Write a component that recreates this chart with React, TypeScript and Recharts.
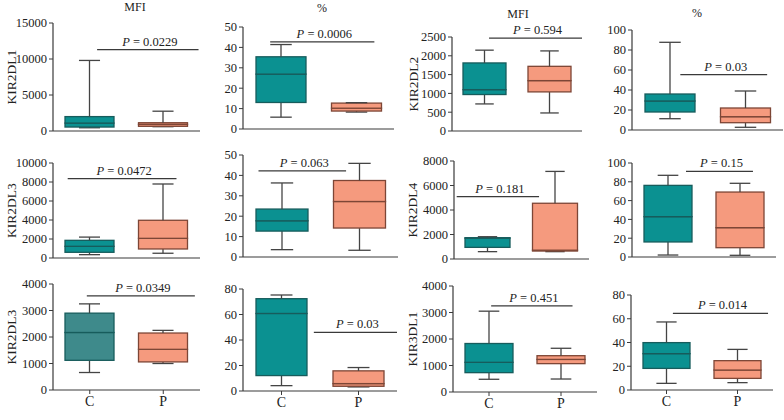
import React from "react";
import { ComposedChart, Bar, XAxis, YAxis, ReferenceLine } from "recharts";

const groups = ["C", "P"];

// box stats per group: [min, q1, median, q3, max]
const kir2dl1Mfi = [[450, 550, 1100, 2000, 9800], [600, 650, 920, 1150, 2750]];
const kir2dl1Pct = [[5.8, 13, 26.9, 35.4, 41.4], [8.3, 8.8, 10.2, 12.7, 12.9]];
const kir2dl2Mfi = [[720, 970, 1100, 1810, 2150], [480, 1040, 1340, 1720, 2130]];
const kir2dl2Pct = [[11.3, 18, 29, 36, 87.7], [2.7, 7.3, 13.3, 22, 39]];
const kir2dl3Mfi = [[350, 600, 1230, 1860, 2200], [500, 950, 2070, 3970, 7790]];
const kir2dl3Pct = [[3.6, 12.7, 17.75, 23.5, 36.3], [3.3, 14.2, 27.2, 37.5, 45.9]];
const kir2dl4Mfi = [[600, 950, 1700, 1740, 1820], [600, 650, 720, 4550, 7150]];
const kir2dl4Pct = [[2.1, 16, 42.9, 76.2, 86.9], [1.8, 9.9, 31.2, 69.1, 78.4]];
const kir2dl3bMfi = [[660, 1120, 2170, 2900, 3250], [1000, 1060, 1535, 2150, 2250]];
const kir2dl3bPct = [[4.2, 12.1, 60.8, 72.4, 75.3], [3.2, 3.7, 5.8, 15.8, 18.4]];
const kir3dl1Mfi = [[480, 730, 1120, 1830, 3050], [490, 1070, 1230, 1370, 1650]];
const kir3dl1Pct = [[5.6, 18.2, 30.6, 39.9, 57.3], [6.2, 9.8, 16.8, 24.7, 34.2]];

const ticks15000 = [0, 5000, 10000, 15000];
const ticks10000 = [0, 2000, 4000, 6000, 8000, 10000];
const ticks8000 = [0, 2000, 4000, 6000, 8000];
const ticks4000 = [0, 1000, 2000, 3000, 4000];
const ticks2500 = [0, 500, 1000, 1500, 2000, 2500];
const ticks100 = [0, 20, 40, 60, 80, 100];
const ticks80 = [0, 20, 40, 60, 80];
const ticks50 = [0, 10, 20, 30, 40, 50];

const titles = ["MFI", "%", "MFI", "%"];

// p values and the height of the significance bar (in y units)
const panels = [
  { label: "KIR2DL1", stats: kir2dl1Mfi, ticks: ticks15000, p: "0.0229", sigY: 11300 },
  { label: "", stats: kir2dl1Pct, ticks: ticks50, p: "0.0006", sigY: 42.7 },
  { label: "KIR2DL2", stats: kir2dl2Mfi, ticks: ticks2500, p: "0.594", sigY: 2470 },
  { label: "", stats: kir2dl2Pct, ticks: ticks100, p: "0.03", sigY: 55.3 },
  { label: "KIR2DL3", stats: kir2dl3Mfi, ticks: ticks10000, p: "0.0472", sigY: 8350 },
  { label: "", stats: kir2dl3Pct, ticks: ticks50, p: "0.063", sigY: 42.2 },
  { label: "KIR2DL4", stats: kir2dl4Mfi, ticks: ticks8000, p: "0.181", sigY: 5100 },
  { label: "", stats: kir2dl4Pct, ticks: ticks100, p: "0.15", sigY: 91 },
  { label: "KIR2DL3", stats: kir2dl3bMfi, ticks: ticks4000, p: "0.0349", sigY: 3550 },
  { label: "", stats: kir2dl3bPct, ticks: ticks80, p: "0.03", sigY: 46 },
  { label: "KIR3DL1", stats: kir3dl1Mfi, ticks: ticks4000, p: "0.451", sigY: 3250 },
  { label: "", stats: kir3dl1Pct, ticks: ticks80, p: "0.014", sigY: 64.6 },
];

// pixel layout of each panel; sig = extent of the p-value bar as a fraction of the x axis
const layout = [
  { left: 0, axisX: 53, w: 147, top: 23, bottom: 131, labelX: 11, sig: [0.3, 0.99] },
  { left: 195, axisX: 243, w: 151, top: 27, bottom: 129, labelX: 0, sig: [0.18, 0.87] },
  { left: 398, axisX: 452, w: 130, top: 37, bottom: 131, labelX: 413, sig: [0.285, 1] },
  { left: 585, axisX: 632, w: 151, top: 30, bottom: 130, labelX: 0, sig: [0.32, 0.895] },
  { left: 0, axisX: 53, w: 147, top: 163, bottom: 258, labelX: 11, sig: [0.1, 0.84] },
  { left: 195, axisX: 243, w: 155, top: 155, bottom: 257, labelX: 0, sig: [0.1, 0.665] },
  { left: 398, axisX: 454, w: 135, top: 161, bottom: 259, labelX: 412, sig: [0.02, 0.63] },
  { left: 585, axisX: 632, w: 144, top: 163, bottom: 257, labelX: 0, sig: [0.375, 0.84] },
  { left: 0, axisX: 53, w: 147, top: 284, bottom: 390, labelX: 11, sig: [0.23, 0.965], cFill: "#3e8a8b" },
  { left: 195, axisX: 243, w: 154, top: 289, bottom: 391, labelX: 0, sig: [0.46, 1] },
  { left: 398, axisX: 453, w: 144, top: 286, bottom: 392, labelX: 412, sig: [0.265, 0.83] },
  { left: 585, axisX: 631, w: 142, top: 295, bottom: 390, labelX: 0, sig: [0.295, 0.965] },
];

const titlePos = [
  { x: 135, y: 11 },
  { x: 322, y: 12 },
  { x: 518, y: 18 },
  { x: 697, y: 17 },
];

const FONT = "'Liberation Serif', 'DejaVu Serif', serif";
const AXIS = "#3a3a3a";
const WHISKER = "#444444";
const FILLS = ["#0b9191", "#f59a7e"];
const EDGES = ["#175c5c", "#7d4636"];

const whiskerShape = (end: "top" | "bottom", capRatio: number) => (props: any) => {
  const { x, y, width, height } = props;
  const cx = x + width / 2;
  const cap = width * capRatio;
  const yEnd = end === "top" ? y : y + height;
  return (
    <g>
      <line x1={cx} x2={cx} y1={y} y2={y + height} stroke={WHISKER} strokeWidth={1.3} />
      <line x1={cx - cap / 2} x2={cx + cap / 2} y1={yEnd} y2={yEnd} stroke={WHISKER} strokeWidth={1.3} />
    </g>
  );
};

const boxShape = (cFill?: string) => (props: any) => {
  const { x, y, width, height, payload } = props;
  const i = payload.idx;
  const fill = i === 0 && cFill ? cFill : FILLS[i];
  return (
    <rect x={x} y={y} width={width} height={height} fill={fill} stroke={EDGES[i]} strokeWidth={1.3} />
  );
};

const sigShape = (p: string) => (props: any) => {
  const { x1, y1, x2, y2 } = props;
  return (
    <g>
      <line x1={x1} y1={y1} x2={x2} y2={y2} stroke={AXIS} strokeWidth={1.2} />
      <text x={(x1 + x2) / 2 + 2} y={y1 - 4} textAnchor="middle" fontFamily={FONT} fontSize={12.5} fill="#222">
        <tspan fontStyle="italic">P</tspan> = {p}
      </text>
    </g>
  );
};

function BoxPanel({ index }: { index: number }) {
  const panel = panels[index];
  const box = layout[index];
  const showCats = index >= 8;
  const mTop = 14;
  const xh = showCats ? 26 : 10;
  const yw = box.axisX - box.left;
  const plotH = box.bottom - box.top;
  const width = yw + box.w + 2;
  const height = mTop + plotH + xh;
  const yMax = panel.ticks[panel.ticks.length - 1];
  const barSize = Math.round(box.w / 3);

  const rows = groups.map((g, i) => {
    const [mn, q1, md, q3, mx] = panel.stats[i];
    return { name: g, idx: i, base: mn, wLo: q1 - mn, bLo: md - q1, bHi: q3 - md, wHi: mx - q3 };
  });

  return (
    <div style={{ position: "absolute", left: box.left, top: box.top - mTop }}>
      <ComposedChart
        width={width}
        height={height}
        data={rows}
        margin={{ top: mTop, right: 2, bottom: 0, left: 0 }}
        barSize={barSize}
      >
        <XAxis
          dataKey="name"
          height={xh}
          axisLine={{ stroke: AXIS, strokeWidth: 1.2 }}
          tickLine={{ stroke: AXIS }}
          tickSize={4}
          tick={showCats ? { fontSize: 14, fill: "#222", fontFamily: FONT } : false}
        />
        <XAxis xAxisId="sig" type="number" domain={[0, 1]} hide allowDataOverflow />
        <YAxis
          width={yw}
          domain={[0, yMax]}
          ticks={panel.ticks}
          interval={0}
          axisLine={{ stroke: AXIS, strokeWidth: 1.2 }}
          tickLine={{ stroke: AXIS }}
          tickSize={4}
          tick={{ fontSize: 12.5, fill: "#222", fontFamily: FONT }}
          label={
            panel.label
              ? {
                  value: panel.label,
                  angle: -90,
                  position: "insideLeft",
                  offset: box.labelX - box.left,
                  style: { textAnchor: "middle", fontSize: 13.5, fill: "#222", fontFamily: FONT },
                }
              : undefined
          }
        />
        <Bar dataKey="base" stackId="b" fill="transparent" isAnimationActive={false} />
        <Bar dataKey="wLo" stackId="b" shape={whiskerShape("bottom", 0.43)} isAnimationActive={false} />
        <Bar dataKey="bLo" stackId="b" shape={boxShape(box.cFill)} isAnimationActive={false} />
        <Bar dataKey="bHi" stackId="b" shape={boxShape(box.cFill)} isAnimationActive={false} />
        <Bar dataKey="wHi" stackId="b" shape={whiskerShape("top", 0.43)} isAnimationActive={false} />
        <ReferenceLine
          xAxisId="sig"
          segment={[
            { x: box.sig[0], y: panel.sigY },
            { x: box.sig[1], y: panel.sigY },
          ]}
          ifOverflow="visible"
          shape={sigShape(panel.p)}
        />
      </ComposedChart>
    </div>
  );
}

export default function App() {
  return (
    <div style={{ position: "absolute", left: 0, top: 0, width: 784, height: 420, background: "#fff", overflow: "hidden" }}>
      {panels.map((_, i) => (
        <BoxPanel key={i} index={i} />
      ))}
      <svg width={784} height={420} style={{ position: "absolute", left: 0, top: 0, pointerEvents: "none" }}>
        {titles.map((t, i) => (
          <text key={i} x={titlePos[i].x} y={titlePos[i].y} textAnchor="middle" fontFamily={FONT} fontSize={12} fill="#222">
            {t}
          </text>
        ))}
      </svg>
    </div>
  );
}
